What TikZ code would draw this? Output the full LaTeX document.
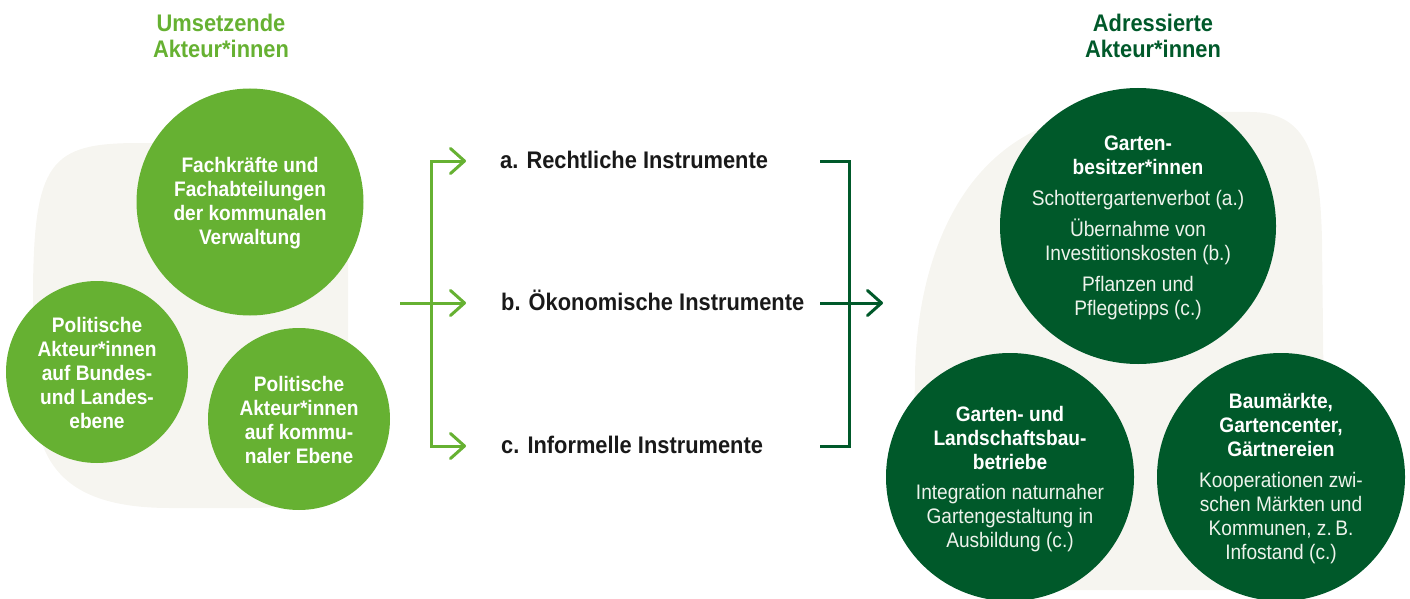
\documentclass[tikz,border=0pt]{standalone}
\usepackage{fontspec}
\setmainfont{Liberation Sans}[FakeStretch=0.91]
\usetikzlibrary{arrows.meta,calc}
\definecolor{lgreen}{HTML}{66B132}
\definecolor{dgreen}{HTML}{00592A}
\definecolor{blobc}{HTML}{F6F5F0}
\definecolor{lighttext}{HTML}{EEF3EC}
\begin{document}
\begin{tikzpicture}[x=1pt,y=-1pt,
  lcirc/.style={circle, fill=lgreen, inner sep=0pt, minimum size=#1},
  dcirc/.style={circle, fill=dgreen, inner sep=0pt, minimum size=#1},
  ltext/.style={align=center, inner sep=0pt, text=white, font=\bfseries\fontsize{21}{24}\selectfont},
  rtext/.style={align=center, inner sep=0pt, text=lighttext, font=\fontsize{21}{24}\selectfont},
  instr/.style={anchor=west, inner sep=0pt, text height=17pt, text depth=3pt, text=black!90, font=\bfseries\fontsize{24}{27}\selectfont},
  ttl/.style={align=center, inner sep=0pt, font=\bfseries\fontsize{24}{26.5}\selectfont},
  garr/.style={lgreen, line width=3pt, line join=miter, -{Straight Barb[length=14pt,width=25pt,round]}},
  darr/.style={dgreen, line width=3pt, -{Straight Barb[length=14pt,width=25pt,round]}},
  dline/.style={dgreen, line width=3pt, line join=miter}]
\useasboundingbox (0,0) rectangle (1410,599);
% background blobs
\fill[blobc] (33,300) .. controls (33,160) and (50,143) .. (140,143) -- (300,143)
  .. controls (340,143) and (348,200) .. (348,260) -- (348,400)
  .. controls (348,480) and (330,508) .. (250,508) -- (170,508)
  .. controls (60,508) and (33,460) .. (33,380) -- cycle;
\fill[blobc] (912,500) -- (915,380) .. controls (915,280) and (950,130) .. (1100,112)
  -- (1250,112) .. controls (1310,112) and (1320,160) .. (1322,240)
  -- (1325,520) .. controls (1326,580) and (1300,590) .. (1240,590)
  -- (980,590) .. controls (930,590) and (912,560) .. (912,500) -- cycle;
% titles
\node[ttl, text=lgreen] (tl) at (221,36) {Umsetzende\\Akteur*innen};
\node[ttl, text=dgreen] (tr) at (1153,36) {Adressierte\\Akteur*innen};
% left circles
\node[lcirc=227pt] (c1) at (250,202) {};
\node[lcirc=182pt] (c2) at (97,372) {};
\node[lcirc=182pt] (c3) at (299,419) {};
\node[ltext] (t1) at (250,203) {Fachkräfte und\\Fachabteilungen\\der kommunalen\\Verwaltung};
\node[ltext] (t2) at (97,373) {Politische\\Akteur*innen\\auf Bundes-\\und Landes-\\ebene};
\node[ltext] (t3) at (299,420) {Politische\\Akteur*innen\\auf kommu-\\naler Ebene};
% instruments
\node[instr] (a) at (500,161) {a. Rechtliche Instrumente};
\node[instr] (b) at (501,303) {b. Ökonomische Instrumente};
\node[instr] (c) at (501,446) {c. Informelle Instrumente};
% left bracket
\coordinate (lin) at (400,303);
\coordinate (lj) at (431,303);
\draw[garr] (lin) -- ($(b.west)+(-35,0)$);
\draw[garr] (lj) |- ($(a.west)+(-34,0)$);
\draw[garr] (lj) |- ($(c.west)+(-35,0)$);
% right bracket
\coordinate (ra) at (820,161);
\coordinate (rb) at (820,303);
\coordinate (rc) at (820,446);
\coordinate (rt) at (883,303);
\draw[dline] (ra) -- (849,161) -- (849,446) -- (rc);
\draw[darr] (rb) -- (rt);
% right circles
\node[dcirc=276pt] (d1) at (1138,226) {};
\node[dcirc=248pt] (d2) at (1010,477) {};
\node[dcirc=248pt] (d3) at (1281,477) {};
\node[rtext] (s1) at (1138,228) {\textbf{\color{white}Garten-}\\\textbf{\color{white}besitzer*innen}\\[7pt]Schottergartenverbot (a.)\\[7pt]Übernahme von\\Investitionskosten (b.)\\[7pt]Pflanzen und\\Pflegetipps (c.)};
\node[rtext] (s2) at (1010,479) {\textbf{\color{white}Garten- und}\\\textbf{\color{white}Landschaftsbau-}\\\textbf{\color{white}betriebe}\\[6pt]Integration naturnaher\\Gartengestaltung in\\Ausbildung (c.)};
\node[rtext] (s3) at (1281,479) {\textbf{\color{white}Baumärkte,}\\\textbf{\color{white}Gartencenter,}\\\textbf{\color{white}Gärtnereien}\\[7pt]Kooperationen zwi-\\schen Märkten und\\Kommunen, z.\,B.\\Infostand (c.)};
\end{tikzpicture}
\end{document}
